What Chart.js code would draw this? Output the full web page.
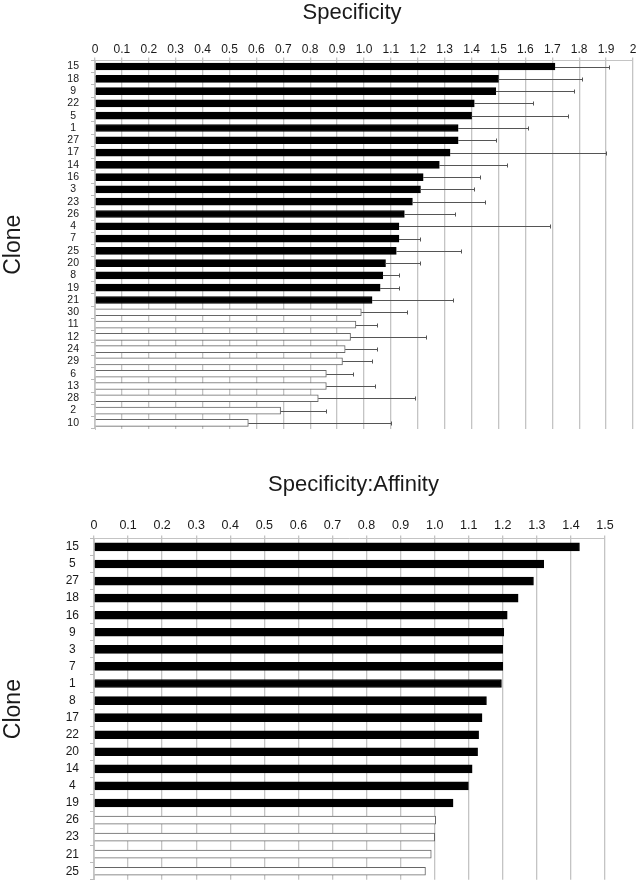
<html><head><meta charset="utf-8">
<script src="https://cdn.jsdelivr.net/npm/chart.js@4.4.1/dist/chart.umd.min.js"></script>
<style>
 html, body { margin:0; background:#fff; overflow:hidden; }
 canvas { position:absolute; left:0; }
</style>
</head>
<body>
<canvas id="specChart" width="643" height="460" style="top:0"></canvas>
<canvas id="affChart" width="643" height="426" style="top:472px"></canvas>
<script>
// Specificity (top panel)
var specClones = ['15','18','9','22','5','1','27','17','14','16','3','23','26','4','7','25','20','8','19','21','30','11','12','24','29','6','13','28','2','10'];
var specValues = [1.71,1.50,1.49,1.41,1.40,1.35,1.35,1.32,1.28,1.22,1.21,1.18,1.15,1.13,1.13,1.12,1.08,1.07,1.06,1.03,0.99,0.97,0.95,0.93,0.92,0.86,0.86,0.83,0.69,0.57];
var specErrors = [0.20,0.31,0.29,0.22,0.36,0.26,0.14,0.58,0.25,0.21,0.20,0.27,0.19,0.56,0.08,0.24,0.13,0.06,0.07,0.30,0.17,0.08,0.28,0.12,0.11,0.10,0.18,0.36,0.17,0.53];
var specTicks = ['0','0.1','0.2','0.3','0.4','0.5','0.6','0.7','0.8','0.9','1.0','1.1','1.2','1.3','1.4','1.5','1.6','1.7','1.8','1.9','2'];
var specFilled = 20;

// Specificity:Affinity (bottom panel)
var affClones = ['15','5','27','18','16','9','3','7','1','8','17','22','20','14','4','19','26','23','21','25'];
var affValues = [1.425,1.32,1.29,1.245,1.213,1.203,1.20,1.20,1.196,1.152,1.139,1.129,1.126,1.11,1.099,1.054,1.003,1.0,0.99,0.973];
var affTicks = ['0','0.1','0.2','0.3','0.4','0.5','0.6','0.7','0.8','0.9','1.0','1.1','1.2','1.3','1.4','1.5'];
var affFilled = 16;

var textCol = '#1a1a1a';
var gridCol = '#c4c4c4';
var fontFam = '"Liberation Sans", Arial, sans-serif';

// draws the upper error whiskers through the chart's scales
var errorBars = {
  id: 'errorBars',
  afterDatasetsDraw: function(chart, args, opts) {
    if (!opts.errors) return;
    var ctx = chart.ctx, xs = chart.scales.x, ys = chart.scales.y;
    var vals = chart.data.datasets[0].data;
    ctx.save();
    ctx.strokeStyle = '#555';
    ctx.lineWidth = 1;
    for (var i = 0; i < vals.length; i++) {
      var y = Math.round(ys.getPixelForValue(i)) + 0.5;
      var x1 = xs.getPixelForValue(vals[i]);
      var x2 = Math.round(xs.getPixelForValue(vals[i] + opts.errors[i])) + 0.5;
      ctx.beginPath();
      ctx.moveTo(x1, y); ctx.lineTo(x2, y);
      ctx.moveTo(x2, y - 2); ctx.lineTo(x2, y + 2);
      ctx.stroke();
    }
    ctx.restore();
  }
};

// nudges the title sideways, the original titles are not quite centred on the plot
var titleShift = {
  id: 'titleShift',
  afterLayout: function(chart, args, opts) {
    var t = chart.titleBlock;
    if (t && opts.dx) { t.left += opts.dx; t.right += opts.dx; }
  }
};

function makeChart(id, clones, values, ticks, filled, cfg) {
  var fills = values.map(function(v, i) { return i < filled ? '#000' : '#fff'; });
  var borders = values.map(function(v, i) { return i < filled ? '#000' : '#666'; });
  return new Chart(document.getElementById(id), {
    type: 'bar',
    data: {
      labels: clones,
      datasets: [{
        data: values,
        backgroundColor: fills,
        borderColor: borders,
        borderWidth: 1,
        barThickness: cfg.barThickness
      }]
    },
    plugins: [errorBars, titleShift],
    options: {
      indexAxis: 'y',
      responsive: false,
      animation: false,
      devicePixelRatio: 1,
      layout: { padding: cfg.padding },
      plugins: {
        legend: { display: false },
        tooltip: { enabled: false },
        title: {
          display: true, text: cfg.title, color: textCol, fullSize: false,
          font: { family: fontFam, size: 22, weight: 'normal' },
          padding: { top: 0, bottom: 0 }
        },
        errorBars: { errors: cfg.errors },
        titleShift: { dx: cfg.titleDx }
      },
      scales: {
        x: {
          position: 'top',
          min: 0, max: cfg.max,
          afterFit: function(s) { s.height = cfg.xHeight; },
          border: { display: true, color: gridCol },
          grid: { color: gridCol, lineWidth: 1.3, tickLength: 3 },
          ticks: {
            stepSize: 0.1, autoSkip: false, maxRotation: 0, padding: cfg.xPad,
            color: textCol, font: { family: fontFam, size: cfg.xFont },
            callback: function(v, i) { return ticks[i]; }
          }
        },
        y: {
          afterFit: function(s) { s.width = cfg.yWidth; },
          border: { display: true, color: gridCol },
          grid: { drawOnChartArea: false, tickLength: 4, color: '#bbb', offset: true },
          title: {
            display: true, text: 'Clone', color: textCol,
            font: { family: fontFam, size: 23 }, padding: 0
          },
          ticks: {
            autoSkip: false, crossAlign: 'center', padding: cfg.yPad,
            color: textCol, font: { family: fontFam, size: cfg.yFont }
          }
        }
      }
    }
  });
}

makeChart('specChart', specClones, specValues, specTicks, specFilled, {
  title: 'Specificity', max: 2, errors: specErrors, barThickness: 7, titleDx: -12,
  padding: { top: 0, left: 0, right: 10, bottom: 31 },
  xHeight: 34, xPad: 1, xFont: 12, yWidth: 95, yPad: 12, yFont: 10.5
});

makeChart('affChart', affClones, affValues, affTicks, affFilled, {
  title: 'Specificity:Affinity', max: 1.5, errors: null, barThickness: 8, titleDx: 4,
  padding: { top: 0, left: 0, right: 38, bottom: 0 },
  xHeight: 40, xPad: 2, xFont: 12.5, yWidth: 94, yPad: 11, yFont: 12
});
</script>
</body></html>
